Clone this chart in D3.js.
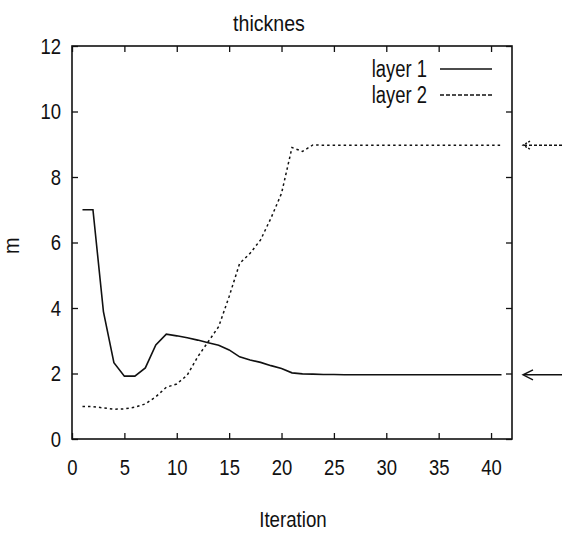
<!DOCTYPE html>
<html lang="en">
<head>
  <meta charset="UTF-8">
  <title>thicknes</title>
  <script src="https://d3js.org/d3.v7.min.js"></script>
  <style>
    body { margin: 0; background: #fff; }
    text { font-family: "Liberation Sans", Arial, sans-serif; fill: #111; }
  </style>
</head>
<body>
  <div id="chart"></div>
  <script>
    const iterations = d3.range(1, 42);
    const layer1 = [7.0, 7.0, 3.89, 2.33, 1.92, 1.92, 2.17, 2.87, 3.2, 3.15,
                    3.09, 3.02, 2.94, 2.86, 2.72, 2.51, 2.41, 2.34, 2.24, 2.15,
                    2.02, 1.99, 1.98, 1.97, 1.97, 1.96, 1.96, 1.96, 1.96, 1.96,
                    1.96, 1.96, 1.96, 1.96, 1.96, 1.96, 1.96, 1.96, 1.96, 1.96, 1.96];
    const layer2 = [0.99, 0.99, 0.95, 0.91, 0.92, 0.97, 1.07, 1.29, 1.58, 1.68,
                    1.95, 2.51, 2.97, 3.43, 4.35, 5.36, 5.67, 6.08, 6.75, 7.5,
                    8.9, 8.78, 8.98, 8.97, 8.97, 8.97, 8.97, 8.97, 8.97, 8.97,
                    8.97, 8.97, 8.97, 8.97, 8.97, 8.97, 8.97, 8.97, 8.97, 8.97, 8.97];
    const seriesNames = ["layer 1", "layer 2"];
    const xTicks = [0, 5, 10, 15, 20, 25, 30, 35, 40];
    const yTicks = [0, 2, 4, 6, 8, 10, 12];

    const width = 562, height = 534;
    const margin = {top: 46, right: 50, bottom: 95, left: 72};

    const svg = d3.select("#chart").append("svg")
      .attr("width", width)
      .attr("height", height);

    const x = d3.scaleLinear().domain([0, 42]).range([margin.left, width - margin.right]);
    const y = d3.scaleLinear().domain([0, 12]).range([height - margin.bottom, margin.top]);

    const ink = "#111";

    // the scanned font is a narrow helvetica, squeeze the glyphs to match
    function condense(sel, k) {
      sel.each(function() {
        const w = this.getComputedTextLength();
        d3.select(this).attr("textLength", w * k).attr("lengthAdjust", "spacingAndGlyphs");
      });
    }

    // axes, ticks inside the box
    const fs = 22;
    svg.append("g")
      .attr("transform", "translate(0," + y(0) + ")")
      .call(d3.axisBottom(x).tickValues(xTicks).tickSizeInner(-6).tickSizeOuter(0).tickPadding(20))
      .call(g => g.select(".domain").remove())
      .call(g => g.selectAll("text").style("font-size", fs + "px").attr("fill", ink).call(condense, 0.84));

    svg.append("g")
      .attr("transform", "translate(0," + y(12) + ")")
      .call(d3.axisTop(x).tickValues(xTicks).tickSizeInner(-6).tickSizeOuter(0).tickFormat(""))
      .call(g => g.select(".domain").remove());

    svg.append("g")
      .attr("transform", "translate(" + x(0) + ",0)")
      .call(d3.axisLeft(y).tickValues(yTicks).tickSizeInner(-6).tickSizeOuter(0).tickPadding(11))
      .call(g => g.select(".domain").remove())
      .call(g => g.selectAll("text").style("font-size", fs + "px").attr("fill", ink).call(condense, 0.84));

    svg.append("g")
      .attr("transform", "translate(" + x(42) + ",0)")
      .call(d3.axisRight(y).tickValues(yTicks).tickSizeInner(-6).tickSizeOuter(0).tickFormat(""))
      .call(g => g.select(".domain").remove());

    svg.selectAll(".tick line").attr("stroke", ink).attr("stroke-width", 1.3);

    svg.append("rect")
      .attr("x", x(0)).attr("y", y(12))
      .attr("width", x(42) - x(0)).attr("height", y(0) - y(12))
      .attr("fill", "none").attr("stroke", ink).attr("stroke-width", 1.6);

    // series
    const line = d3.line().x((d, i) => x(iterations[i])).y(d => y(d));

    svg.append("path").datum(layer1)
      .attr("d", line).attr("fill", "none")
      .attr("stroke", ink).attr("stroke-width", 1.6);

    svg.append("path").datum(layer2)
      .attr("d", line).attr("fill", "none")
      .attr("stroke", ink).attr("stroke-width", 1.5)
      .attr("stroke-dasharray", "2.5,3");

    // legend
    const legend = svg.append("g");
    seriesNames.forEach(function(name, i) {
      const ly = 69 + i * 26;
      legend.append("text")
        .attr("x", 427).attr("y", ly).attr("dy", "0.35em")
        .attr("text-anchor", "end")
        .style("font-size", "23px")
        .text(name)
        .call(condense, 0.8);
      legend.append("line")
        .attr("x1", 440).attr("x2", 492).attr("y1", ly).attr("y2", ly)
        .attr("stroke", ink).attr("stroke-width", 1.5)
        .attr("stroke-dasharray", i === 0 ? null : "4,2");
    });

    // arrows on the right marking the true values
    const truth = [layer1[layer1.length - 1], layer2[layer2.length - 1]];
    truth.forEach(function(v, i) {
      const ay = y(v);
      const g = svg.append("g").attr("stroke", ink).attr("stroke-width", 1.4).attr("fill", "none");
      g.append("line")
        .attr("x1", 524).attr("x2", 562).attr("y1", ay).attr("y2", ay)
        .attr("stroke-dasharray", i === 0 ? null : "3,2");
      g.append("path")
        .attr("d", i === 0
          ? "M533," + (ay - 5) + "L523," + ay + "L533," + (ay + 5)
          : "M530," + (ay - 4) + "L523," + ay + "L530," + (ay + 4))
        .attr("stroke-dasharray", i === 0 ? null : "2,1.5");
    });

    // titles
    svg.append("text")
      .attr("x", 269).attr("y", 31)
      .attr("text-anchor", "middle")
      .style("font-size", "22px")
      .text("thicknes")
      .call(condense, 0.89);

    svg.append("text")
      .attr("x", 293).attr("y", 527)
      .attr("text-anchor", "middle")
      .style("font-size", "22px")
      .text("Iteration")
      .call(condense, 0.85);

    svg.append("text")
      .attr("transform", "translate(19," + y(5.9) + ") rotate(-90)")
      .attr("text-anchor", "middle")
      .style("font-size", "22px")
      .text("m")
      .call(condense, 0.9);
  </script>
</body>
</html>
